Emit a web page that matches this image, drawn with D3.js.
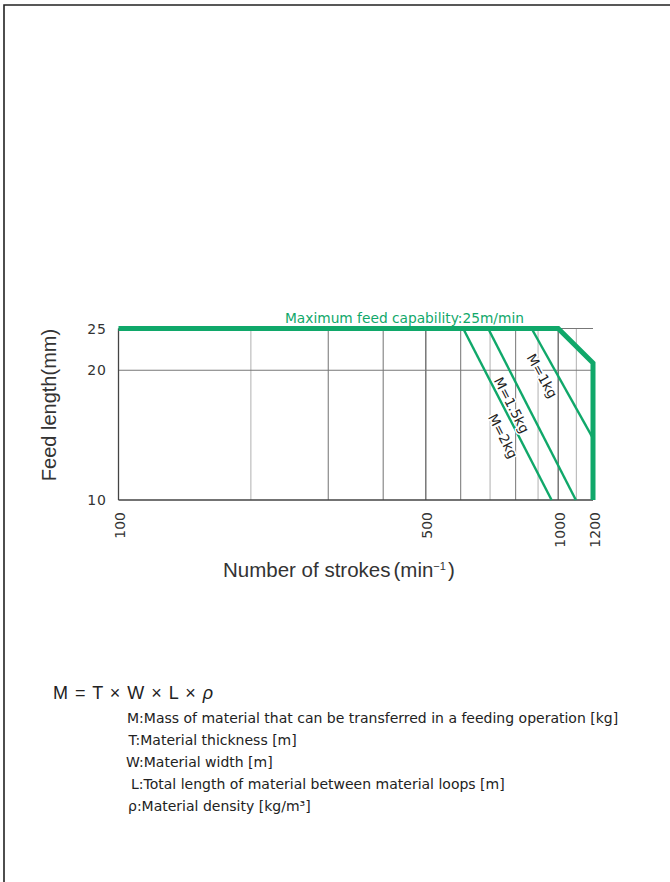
<!DOCTYPE html>
<html>
<head>
<meta charset="utf-8">
<script src="https://cdn.jsdelivr.net/npm/d3@7/dist/d3.min.js"></script>
<style>
  html, body { margin: 0; padding: 0; background: #fff; }
  svg { display: block; font-family: "Liberation Sans", Arial, Helvetica, sans-serif; }
  .dv { font-family: "DejaVu Sans", "Liberation Sans", sans-serif; }
</style>
</head>
<body>
<svg id="chart" width="670" height="882"></svg>
<script>
// ---------- data ----------
const strokeTicks = [100, 500, 1000, 1200];
const gridStrokes = [200, 300, 400, 500, 600, 700, 800, 900, 1000, 1100];
const feedTicks = [10, 20, 25];
const capacityStrokes = [100, 1000, 1200, 1200];
const capacityFeed = [25, 25, 20.8, 10];
const massLabels = ["M=1kg", "M=1.5kg", "M=2kg"];
const massStrokes = [[870, 1200], [693, 1097], [608, 966]];
const massFeed = [[25, 13.9], [25, 10], [25, 10]];
const capacityTitle = "Maximum feed capability:25m/min";
const yTitle = "Feed length(mm)";
const formulaParts = ["M = T \u00D7 W \u00D7 L \u00D7 ", "\u03C1"];
const legendLines = [
  "M:Mass of material that can be transferred in a feeding operation [kg]",
  "T:Material thickness [m]",
  "W:Material width [m]",
  "L:Total length of material between material loops [m]",
  "\u03C1:Material density [kg/m\u00B3]"
];

// ---------- drawing ----------
const svg = d3.select("#chart");
const GREEN = "#10a86a";

// page border (top and left)
svg.append("path").attr("d", "M4,882 L4,5 L670,5")
  .attr("fill", "none").attr("stroke", "#222").attr("stroke-width", 1.6);

const x = d3.scaleLog().domain([100, 1200]).range([118.5, 593]);
const y = d3.scaleLog().domain([10, 25]).range([500, 328.5]);

const g = svg.append("g");

// vertical grid
const gridColor = v => (v === 500 || v === 1000) ? "#555" :
  ([300, 400, 600, 800].includes(v) ? "#8a8a8a" : "#bdbdbd");
g.selectAll("line.vgrid").data(gridStrokes).join("line")
  .attr("class", "vgrid")
  .attr("x1", d => x(d)).attr("x2", d => x(d))
  .attr("y1", y(10)).attr("y2", y(25))
  .attr("stroke", gridColor).attr("stroke-width", 1.2);

// horizontal grid at 20 and top border
g.append("line").attr("x1", x(100)).attr("x2", x(1200))
  .attr("y1", y(20)).attr("y2", y(20))
  .attr("stroke", "#777").attr("stroke-width", 1.2);
g.append("line").attr("x1", x(100)).attr("x2", x(1200))
  .attr("y1", y(25)).attr("y2", y(25))
  .attr("stroke", "#777").attr("stroke-width", 1.2);

// axes lines
g.append("line").attr("x1", x(100)).attr("x2", x(100))
  .attr("y1", y(10)).attr("y2", y(25))
  .attr("stroke", "#444").attr("stroke-width", 1.3);
g.append("line").attr("x1", x(100)).attr("x2", x(1200))
  .attr("y1", y(10)).attr("y2", y(10))
  .attr("stroke", "#444").attr("stroke-width", 1.3);

// y tick labels
g.selectAll("text.ytick").data(feedTicks).join("text")
  .attr("class", "ytick dv")
  .attr("x", 107).attr("y", d => y(d)).attr("dy", "0.36em")
  .attr("text-anchor", "end").attr("font-size", 14).attr("letter-spacing", 1)
  .attr("fill", "#333").text(d => d);

// x tick labels (rotated)
g.selectAll("text.xtick").data(strokeTicks).join("text")
  .attr("class", "xtick dv")
  .attr("transform", d => `translate(${x(d) + 6.5},512) rotate(-90)`)
  .attr("text-anchor", "end").attr("font-size", 14)
  .attr("fill", "#333").text(d => d);

// axis titles
svg.append("text")
  .attr("transform", `translate(55.5,405) rotate(-90)`)
  .attr("text-anchor", "middle").attr("font-size", 20).attr("fill", "#333")
  .text(yTitle);

const xt = svg.append("text").attr("x", 223).attr("y", 577)
  .attr("font-size", 20.5).attr("fill", "#333");
xt.append("tspan").text("Number of strokes");
xt.append("tspan").attr("dx", 3).text("(");
xt.append("tspan").text("min");
xt.append("tspan").attr("font-size", 11).attr("dy", -7).text("\u22121");
xt.append("tspan").attr("dy", 7).attr("dx", 2).text(")");

// mass lines
const line = d3.line().x(d => x(d[0])).y(d => y(d[1]));
const massData = massLabels.map((m, i) => ({
  label: m,
  pts: massStrokes[i].map((s, j) => [s, massFeed[i][j]])
}));
g.selectAll("path.mass").data(massData).join("path")
  .attr("class", "mass")
  .attr("d", d => line(d.pts))
  .attr("fill", "none").attr("stroke", GREEN).attr("stroke-width", 2.4);

// mass labels along lines (with white halo hiding grid behind)
const labelT = [0.37, 0.41, 0.59];
const labelOff = 14;
massData.forEach((d, i) => {
  const p0 = [x(d.pts[0][0]), y(d.pts[0][1])];
  const p1 = [x(d.pts[1][0]), y(d.pts[1][1])];
  const dx = p1[0] - p0[0], dy = p1[1] - p0[1];
  const len = Math.hypot(dx, dy);
  const ux = dx / len, uy = dy / len;
  const cx = p0[0] + dx * labelT[i] - uy * labelOff;
  const cy = p0[1] + dy * labelT[i] + ux * labelOff;
  const ang = Math.atan2(dy, dx) * 180 / Math.PI;
  g.append("text").attr("class", "dv")
    .attr("transform", `translate(${cx},${cy}) rotate(${ang})`)
    .attr("text-anchor", "middle").attr("dy", "0.35em")
    .attr("font-size", 13.5).attr("fill", "#222")
    .attr("stroke", "#fff").attr("stroke-width", 3).attr("paint-order", "stroke")
    .attr("stroke-linejoin", "round")
    .text(d.label);
});

// capacity line
const capPts = capacityStrokes.map((s, i) => [s, capacityFeed[i]]);
g.append("path").attr("d", line(capPts))
  .attr("fill", "none").attr("stroke", GREEN).attr("stroke-width", 5)
  .attr("stroke-linejoin", "miter");

g.append("text").attr("class", "dv").attr("x", 285).attr("y", 322.5)
  .attr("font-size", 13.75).attr("fill", GREEN)
  .text(capacityTitle);

// formula
const ft = svg.append("text").attr("x", 53).attr("y", 699)
  .attr("font-size", 18).attr("letter-spacing", 1).attr("fill", "#222");
ft.append("tspan").text(formulaParts[0]);
ft.append("tspan").attr("font-style", "italic").text(formulaParts[1]);

const legendX = [127, 128.5, 126, 131, 128];
svg.selectAll("text.leg").data(legendLines).join("text")
  .attr("class", "leg dv")
  .attr("x", (d, i) => legendX[i])
  .attr("y", (d, i) => 722.5 + i * 22.2)
  .attr("font-size", 14).attr("fill", "#222")
  .text(d => d);
</script>
</body>
</html>
